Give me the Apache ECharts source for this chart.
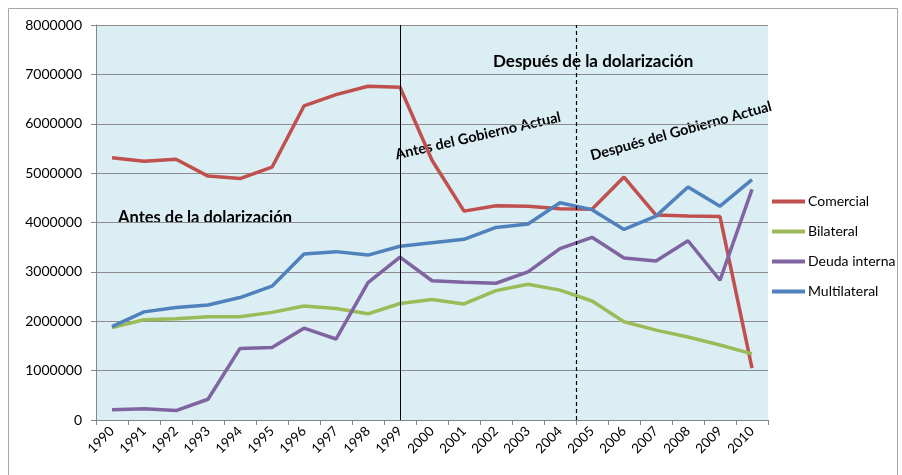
<!DOCTYPE html>
<html>
<head>
<meta charset="utf-8">
<script src="https://cdn.jsdelivr.net/npm/echarts@6/dist/echarts.min.js"></script>
<style>
  html, body { margin: 0; padding: 0; background: #fff; }
  #chart { width: 902px; height: 475px; }
</style>
</head>
<body>
<div id="chart"></div>
<script>
// años
var years = ['1990', '1991', '1992', '1993', '1994', '1995', '1996', '1997', '1998', '1999', '2000',
             '2001', '2002', '2003', '2004', '2005', '2006', '2007', '2008', '2009', '2010'];

var comercial = [5310000, 5240000, 5280000, 4940000, 4890000, 5120000, 6360000, 6590000, 6760000, 6740000, 5260000,
                 4230000, 4340000, 4330000, 4280000, 4270000, 4920000, 4150000, 4130000, 4120000, 1050000];
var bilateral = [1870000, 2030000, 2050000, 2090000, 2090000, 2180000, 2310000, 2260000, 2150000, 2360000, 2440000,
                 2350000, 2620000, 2750000, 2630000, 2410000, 1990000, 1820000, 1680000, 1520000, 1340000];
var deudaInterna = [210000, 230000, 190000, 420000, 1450000, 1470000, 1860000, 1640000, 2780000, 3300000, 2820000,
                    2790000, 2770000, 3000000, 3470000, 3700000, 3280000, 3220000, 3630000, 2830000, 4670000];
var multilateral = [1890000, 2190000, 2280000, 2330000, 2480000, 2710000, 3360000, 3410000, 3340000, 3520000, 3590000,
                    3660000, 3900000, 3970000, 4400000, 4260000, 3860000, 4130000, 4720000, 4330000, 4870000];

var yTicks = [0, 1000000, 2000000, 3000000, 4000000, 5000000, 6000000, 7000000, 8000000];

// posiciones de las líneas verticales (en unidades de categoría)
var lineaGobierno = 9.5;   // 1999
var lineaActual = 15;      // entre 2004 y 2005

var FONT = 'Lato, "Liberation Sans", sans-serif';

var chart = echarts.init(document.getElementById('chart'));

function serie(name, data, color) {
    return {
        name: name,
        type: 'line',
        data: data,
        symbol: 'none',
        smooth: false,
        lineStyle: { width: 3.5, color: color },
        itemStyle: { color: color }
    };
}

var option = {
    animation: false,
    backgroundColor: '#ffffff',
    grid: {
        left: 96,
        right: 134,
        top: 25,
        bottom: 55,
        show: true,
        backgroundColor: '#dbeef4',
        borderWidth: 0
    },
    legend: {
        orient: 'vertical',
        left: 767,
        top: 188,
        itemWidth: 33,
        itemHeight: 4,
        itemGap: 13,
        icon: 'rect',
        data: ['Comercial', 'Bilateral', 'Deuda interna', 'Multilateral'],
        textStyle: { fontFamily: FONT, fontSize: 14, color: '#000', padding: [0, 0, 0, -2], lineHeight: 17 },
        itemStyle: { borderWidth: 0 }
    },
    xAxis: [
        {
            type: 'category',
            data: years,
            boundaryGap: true,
            axisLine: { lineStyle: { color: '#868686', width: 1 } },
            axisTick: { show: true, inside: false, length: 5, lineStyle: { color: '#868686' } },
            axisLabel: { rotate: 45, margin: 9, fontFamily: FONT, fontSize: 13.5, color: '#000', interval: 0 },
            splitLine: { show: false }
        },
        {
            type: 'value',
            min: 0,
            max: years.length,
            show: false
        }
    ],
    yAxis: {
        type: 'value',
        min: yTicks[0],
        max: yTicks[yTicks.length - 1],
        interval: yTicks[1] - yTicks[0],
        axisLine: { show: true, lineStyle: { color: '#868686', width: 1 } },
        axisTick: { show: true, length: 5, lineStyle: { color: '#868686' } },
        axisLabel: {
            margin: 14, fontFamily: FONT, fontSize: 14, color: '#000',
            formatter: function (v) { return String(v); }
        },
        splitLine: { show: true, lineStyle: { color: '#8c8c8c', width: 1 } }
    },
    series: [
        serie('Comercial', comercial, '#c0504d'),
        serie('Bilateral', bilateral, '#9bbb59'),
        serie('Deuda interna', deudaInterna, '#8064a2'),
        serie('Multilateral', multilateral, '#4f81bd'),
        {
            name: 'marcas',
            type: 'line',
            xAxisIndex: 1,
            data: [],
            silent: true,
            markLine: {
                symbol: 'none',
                silent: true,
                label: { show: false },
                data: [
                    { xAxis: lineaGobierno, lineStyle: { color: '#000', width: 1, type: 'solid' } },
                    { xAxis: lineaActual, lineStyle: { color: '#000', width: 1.2, type: [4, 3] } }
                ]
            }
        }
    ],
    graphic: [
        {
            type: 'rect',
            silent: true,
            shape: { x: 8.5, y: 8.5, width: 889, height: 480 },
            style: { fill: null, stroke: '#a6a6a6', lineWidth: 1 }
        },
        {
            type: 'text', x: 118, y: 218,
            style: { text: 'Antes de la dolarización', font: 'bold 16.5px ' + FONT, fill: '#000', verticalAlign: 'middle' }
        },
        {
            type: 'text', x: 493, y: 62,
            style: { text: 'Después de la dolarización', font: 'bold 17px ' + FONT, fill: '#000', verticalAlign: 'middle' }
        },
        {
            type: 'text', x: 478, y: 136, rotation: 13 * Math.PI / 180,
            style: { text: 'Antes del Gobierno Actual', font: 'bold 14.5px ' + FONT, fill: '#000', align: 'center', verticalAlign: 'middle' }
        },
        {
            type: 'text', x: 681, y: 131, rotation: 15.5 * Math.PI / 180,
            style: { text: 'Después del Gobierno Actual', font: 'bold 14.5px ' + FONT, fill: '#000', align: 'center', verticalAlign: 'middle' }
        }
    ]
};

chart.setOption(option);
</script>
</body>
</html>
